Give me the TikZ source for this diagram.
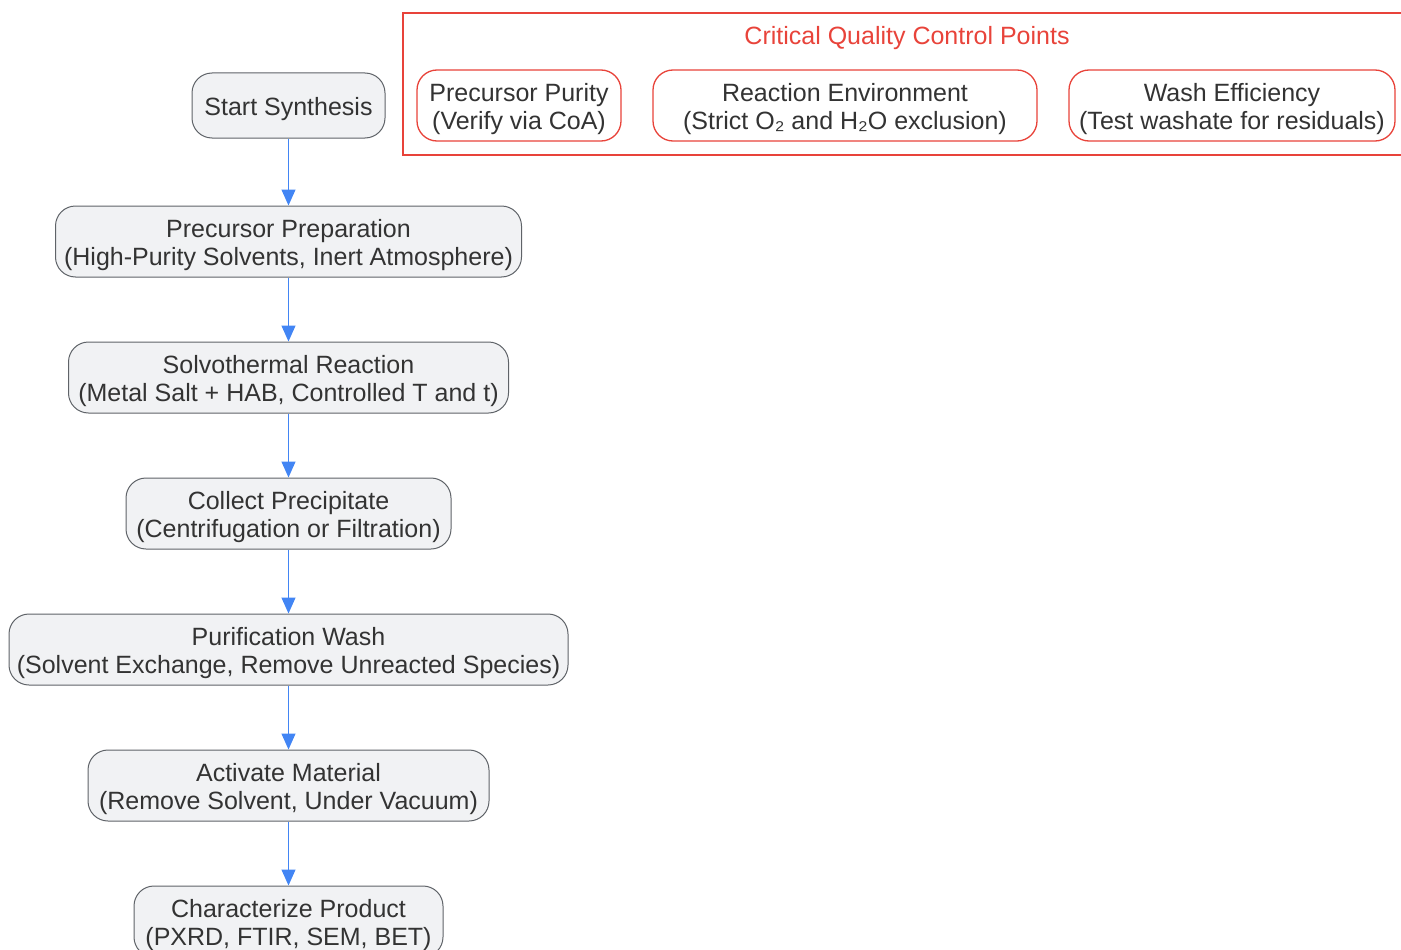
\documentclass[tikz,border=0pt]{standalone}
\usepackage{fontspec}
\setmainfont{Liberation Sans}
\usepackage{xcolor}
\usetikzlibrary{positioning, arrows.meta}
\definecolor{stepfill}{RGB}{241,242,244}
\definecolor{stepline}{RGB}{95,99,104}
\definecolor{flowblue}{RGB}{66,133,244}
\definecolor{qcred}{RGB}{232,67,58}
\definecolor{textgray}{RGB}{51,51,51}
\newcommand{\topstrut}{\rule{0pt}{26pt}}
\tikzstyle{arrow} = [line width=1.2pt,draw=flowblue,-{Triangle[width=14pt,length=16pt]}]
\tikzstyle{stage}=[draw=stepline,line width=1pt,fill=stepfill,rounded corners=20pt,align=center,inner xsep=6pt,inner ysep=0pt,minimum height=71pt,text=textgray]
\tikzstyle{check}=[draw=qcred,line width=1.3pt,fill=white,rounded corners=20pt,align=center,inner xsep=6pt,inner ysep=0pt,minimum height=71pt,text=textgray]

\begin{document}
\begin{tikzpicture}[x=1pt,y=1pt,node distance=136pt,font=\fontsize{25}{28}\selectfont]
	\useasboundingbox (0,0) rectangle (1401,-950);
	% quality control panel
	\draw[qcred,line width=1.3pt] (403,-13) rectangle (1430,-155);
	\node [text=qcred] (qctitle) at (907,-38) {Critical Quality Control Points};
	\node [check, minimum width=204pt] (purity) at (519,-105.5) {\topstrut Precursor Purity\\(Verify via CoA)};
	\node [check, minimum width=384pt] (environment) at (845,-105.5) {\topstrut Reaction Environment\\(Strict O₂ and H₂O exclusion)};
	\node [check, minimum width=326pt] (washing) at (1232,-105.5) {\topstrut Wash Efficiency\\(Test washate for residuals)};
	
	% main synthesis route
	\node [stage, minimum height=65pt, minimum width=193pt] (start) at (288.5,-105.5) {\topstrut Start Synthesis};
	\node [stage, minimum width=466pt, below of=start] (precursor) {\topstrut Precursor Preparation\\(High-Purity Solvents, Inert Atmosphere)};
	\node [stage, minimum width=440pt, below of=precursor] (reaction) {\topstrut Solvothermal Reaction\\(Metal Salt + HAB, Controlled T and t)};
	\node [stage, minimum width=325pt, below of=reaction] (collect) {\topstrut Collect Precipitate\\(Centrifugation or Filtration)};
	\node [stage, minimum width=559pt, below of=collect] (wash) {\topstrut Purification Wash\\(Solvent Exchange, Remove Unreacted Species)};
	\node [stage, minimum width=401pt, below of=wash] (activate) {\topstrut Activate Material\\(Remove Solvent, Under Vacuum)};
	\node [stage, minimum width=309pt, below of=activate] (characterize) {\topstrut Characterize Product\\(PXRD, FTIR, SEM, BET)};
	
	\draw[arrow] (start) -- (precursor);
	\draw[arrow] (precursor) -- (reaction);
	\draw[arrow] (reaction) -- (collect);
	\draw[arrow] (collect) -- (wash);
	\draw[arrow] (wash) -- (activate);
	\draw[arrow] (activate) -- (characterize);
\end{tikzpicture}
\end{document}
